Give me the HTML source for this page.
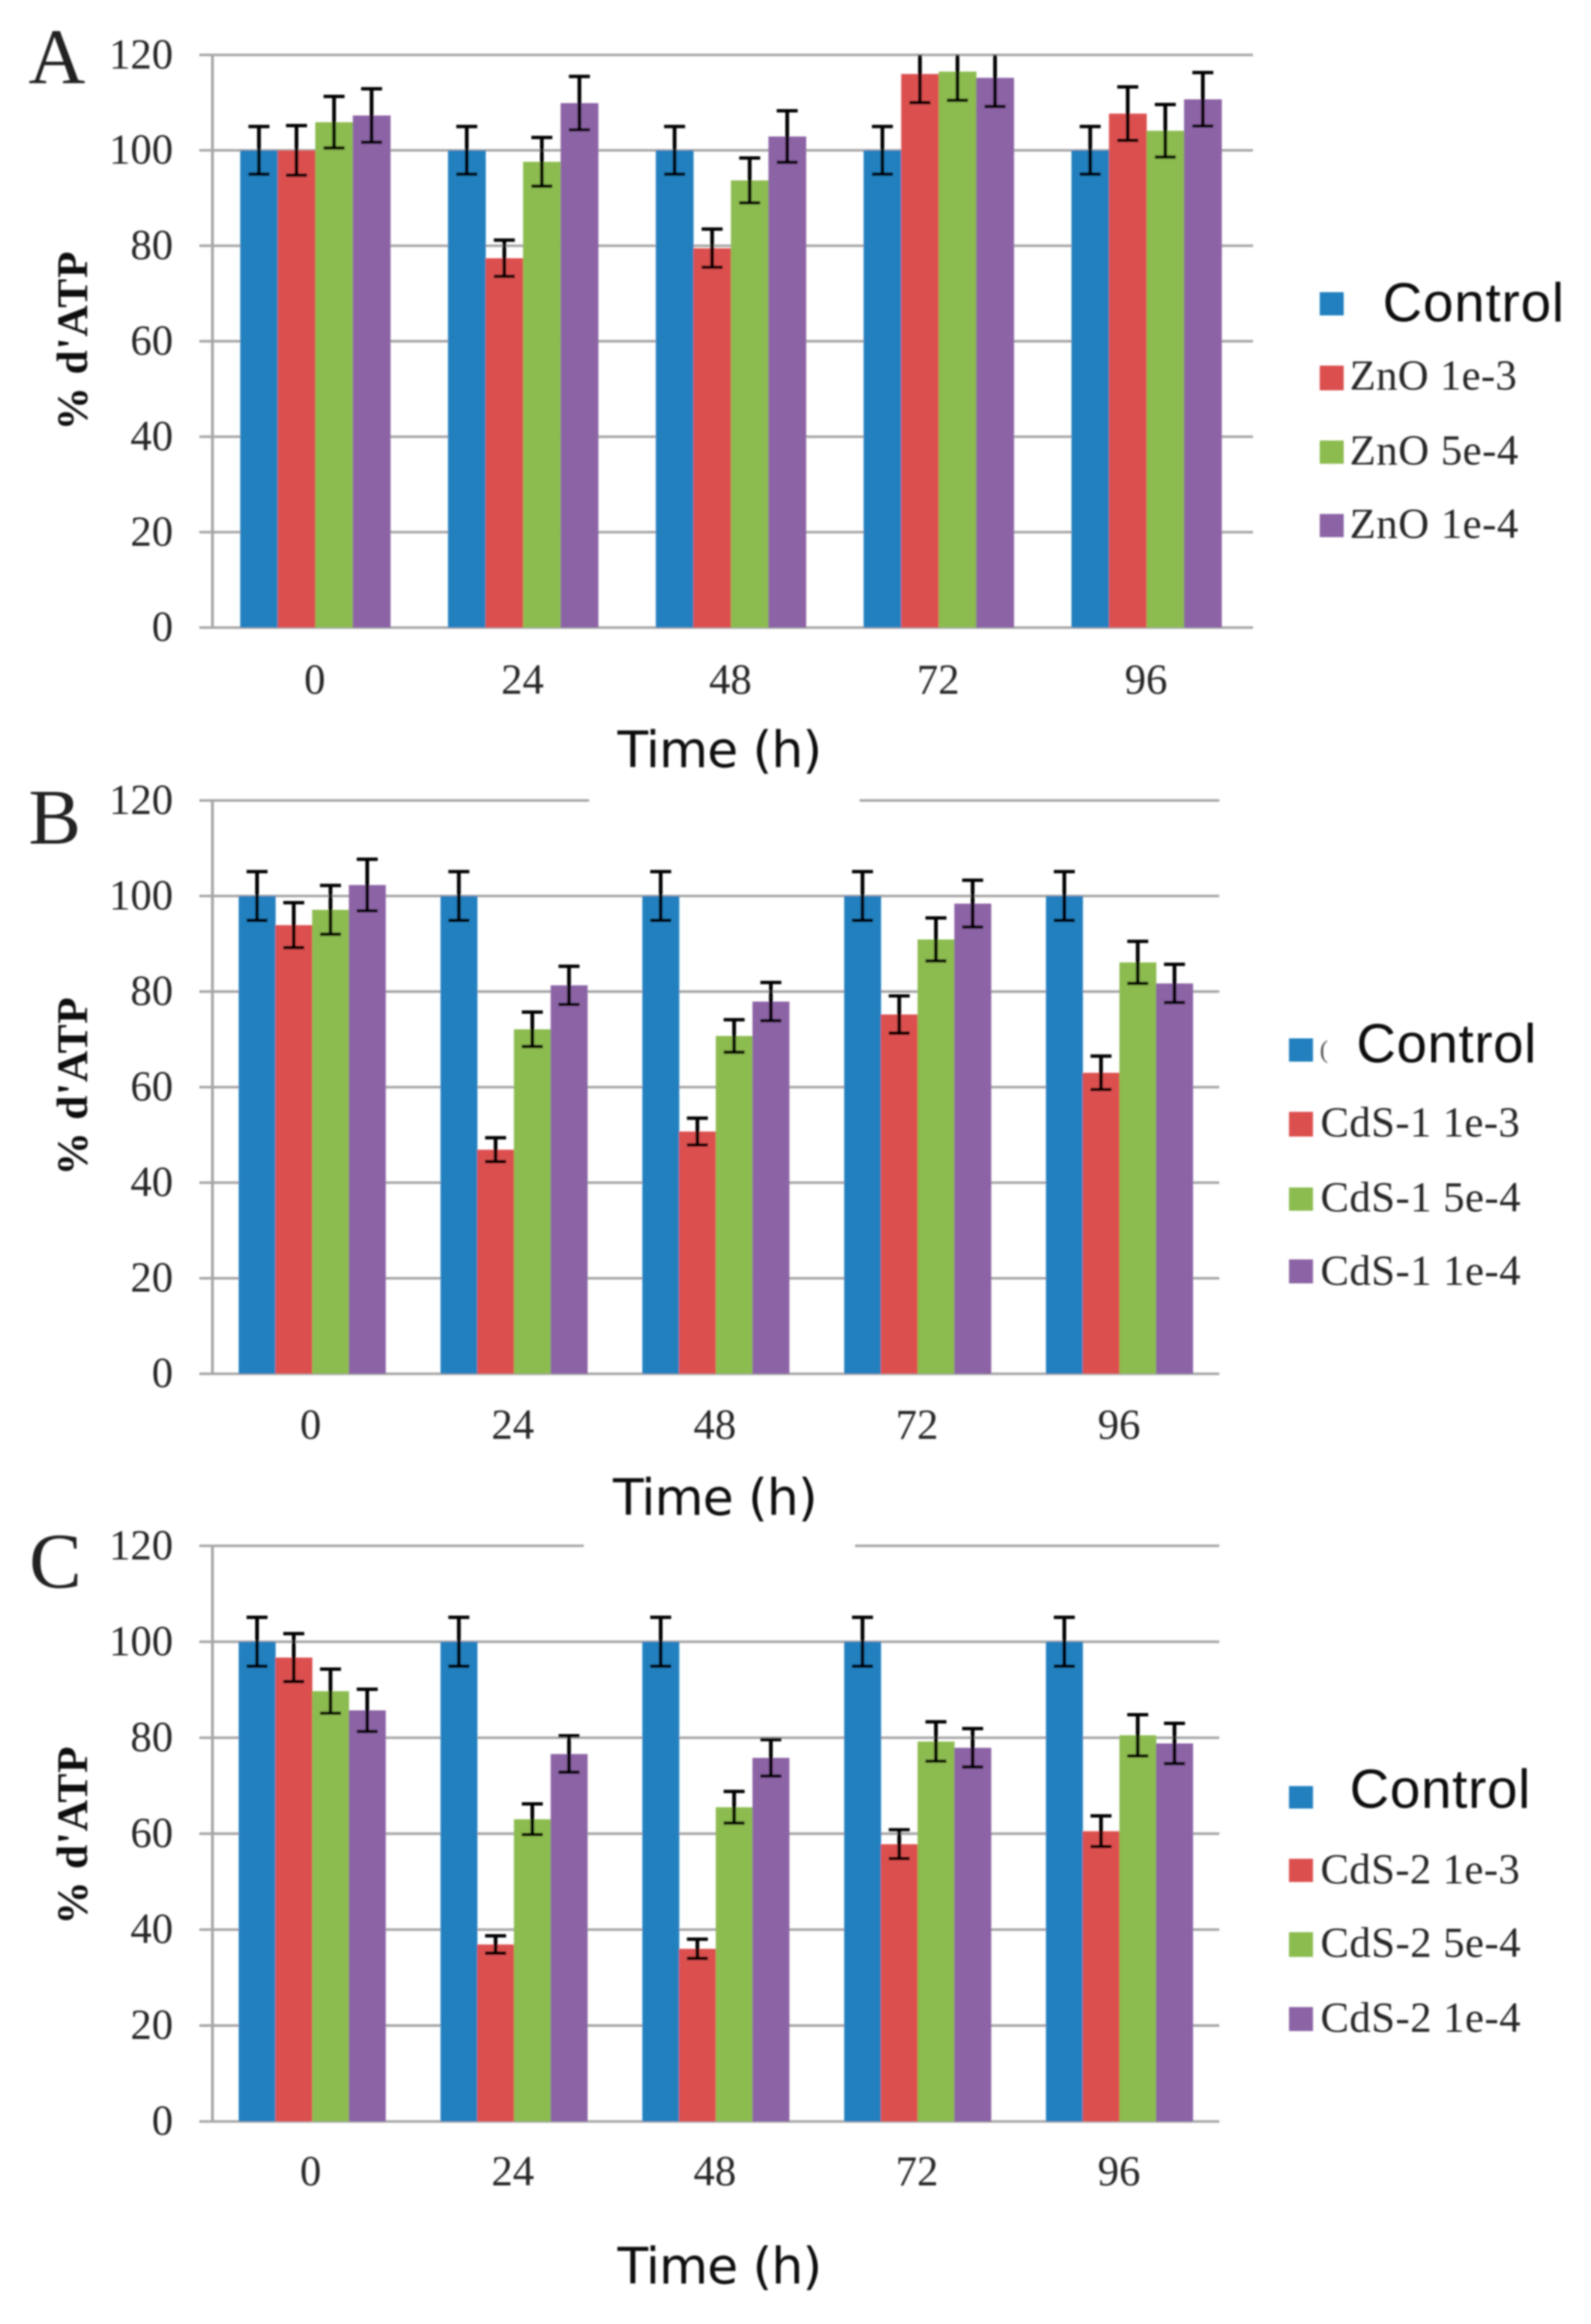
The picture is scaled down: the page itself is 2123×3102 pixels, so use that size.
<!DOCTYPE html>
<html lang="en">
<head>
<meta charset="utf-8">
<title>% d'ATP over time for ZnO, CdS-1 and CdS-2</title>
<style>
html,body{margin:0;padding:0;background:#fff;}
svg{display:block;}
.tick{font-family:"Liberation Serif",serif;font-size:57px;fill:#262626;}
.ytitle{font-family:"Liberation Serif",serif;font-size:58px;font-weight:bold;fill:#111;}
.xtitle{font-family:"DejaVu Sans",sans-serif;font-size:67px;fill:#111;}
.letter{font-family:"Liberation Serif",serif;font-size:105px;fill:#222;}
.lg-ctrl{font-family:"Liberation Sans",sans-serif;font-size:73px;fill:#111;}
.lg{font-family:"Liberation Serif",serif;font-size:57px;fill:#262626;}
</style>
</head>
<body>
<svg id="figure" xmlns="http://www.w3.org/2000/svg" width="2123" height="3102" viewBox="0 0 2123 3102">
<defs>
<filter id="soft" filterUnits="userSpaceOnUse" x="0" y="0" width="2123" height="3102"><feGaussianBlur stdDeviation="1.1"/></filter>
</defs>
<rect width="2123" height="3102" fill="#fff"/>
<g filter="url(#soft)">
  <g id="panel-a">
    <g id="marks-a"></g>
    <text class="letter" x="38" y="111">A</text>
    <text class="ytitle" text-anchor="middle" textLength="239" transform="translate(116,455) rotate(-90)">% d'ATP</text>
    <text class="xtitle" x="824" y="1024" textLength="273">Time (h)</text>
    <g>
      <rect x="1761" y="390" width="32" height="31" fill="#2480bf"/>
      <text class="lg-ctrl" x="1845" y="429" textLength="242">Control</text>
      <rect x="1761" y="488" width="32" height="33" fill="#dc4f4f"/>
      <text class="lg" x="1801" y="520" textLength="223">ZnO 1e-3</text>
      <rect x="1761" y="588" width="32" height="31" fill="#8cbb4f"/>
      <text class="lg" x="1801" y="620" textLength="225">ZnO 5e-4</text>
      <rect x="1761" y="686" width="32" height="31" fill="#8c63a5"/>
      <text class="lg" x="1801" y="718" textLength="225">ZnO 1e-4</text>
    </g>
  </g>
  <g id="panel-b">
    <g id="marks-b"></g>
    <text class="letter" x="38" y="1126">B</text>
    <text class="ytitle" text-anchor="middle" textLength="238" transform="translate(116,1450) rotate(-90)">% d'ATP</text>
    <text class="xtitle" x="818" y="2022" textLength="273">Time (h)</text>
    <g>
      <rect x="1720" y="1386" width="32" height="31" fill="#2480bf"/>
      <text x="1761" y="1412" font-family="Liberation Serif, serif" font-size="34" fill="#555">(</text>
      <text class="lg-ctrl" x="1810" y="1418" textLength="240">Control</text>
      <rect x="1720" y="1484" width="32" height="33" fill="#dc4f4f"/>
      <text class="lg" x="1762" y="1517" textLength="266">CdS-1 1e-3</text>
      <rect x="1720" y="1585" width="32" height="31" fill="#8cbb4f"/>
      <text class="lg" x="1762" y="1617" textLength="267">CdS-1 5e-4</text>
      <rect x="1720" y="1681" width="32" height="32" fill="#8c63a5"/>
      <text class="lg" x="1762" y="1715" textLength="267">CdS-1 1e-4</text>
    </g>
  </g>
  <g id="panel-c">
    <g id="marks-c"></g>
    <text class="letter" x="39" y="2119">C</text>
    <text class="ytitle" text-anchor="middle" textLength="238" transform="translate(116,2450) rotate(-90)">% d'ATP</text>
    <text class="xtitle" x="824" y="3048" textLength="273">Time (h)</text>
    <g>
      <rect x="1720" y="2384" width="32" height="30" fill="#2480bf"/>
      <text class="lg-ctrl" x="1801" y="2413" textLength="241">Control</text>
      <rect x="1720" y="2481" width="32" height="31" fill="#dc4f4f"/>
      <text class="lg" x="1762" y="2514" textLength="266">CdS-2 1e-3</text>
      <rect x="1720" y="2579" width="32" height="33" fill="#8cbb4f"/>
      <text class="lg" x="1762" y="2612" textLength="267">CdS-2 5e-4</text>
      <rect x="1720" y="2679" width="32" height="32" fill="#8c63a5"/>
      <text class="lg" x="1762" y="2712" textLength="267">CdS-2 1e-4</text>
    </g>
  </g>
</g>
</svg>
<script>
// Shared axis data
const categories = ['0', '24', '48', '72', '96'];
const yTicks = [0, 20, 40, 60, 80, 100, 120];
const yMax = 120;

// Panel A values (% ATP) and error half-widths
const aControl = [100, 100, 100, 100, 100];
const aHigh = [100, 77.4, 79.5, 116, 107.7];
const aMid = [105.9, 97.6, 93.7, 116.5, 104.1];
const aLow = [107.3, 109.9, 102.9, 115.2, 110.7];
const aControlErr = [5, 5, 5, 5, 5];
const aHighErr = [5.2, 3.8, 4, 6, 5.6];
const aMidErr = [5.4, 5.1, 4.7, 6, 5.5];
const aLowErr = [5.6, 5.6, 5.4, 6, 5.6];

// Panel B values
const bControl = [100, 100, 100, 100, 100];
const bHigh = [93.9, 46.9, 50.7, 75.2, 63];
const bMid = [97.1, 72.1, 70.7, 90.9, 86.1];
const bLow = [102.3, 81.3, 77.9, 98.4, 81.7];
const bControlErr = [5.1, 5.1, 5.1, 5.1, 5.1];
const bHighErr = [4.7, 2.5, 2.8, 3.9, 3.5];
const bMidErr = [5.1, 3.6, 3.4, 4.5, 4.4];
const bLowErr = [5.4, 4, 4, 4.9, 4];

// Panel C values
const cControl = [100, 100, 100, 100, 100];
const cHigh = [96.7, 36.9, 36, 57.8, 60.5];
const cMid = [89.7, 63, 65.5, 79.2, 80.5];
const cLow = [85.7, 76.6, 75.8, 77.9, 78.8];
const cControlErr = [5.1, 5.1, 5.1, 5.1, 5.1];
const cHighErr = [5, 1.8, 2, 3, 3.2];
const cMidErr = [4.6, 3.2, 3.3, 4.1, 4.3];
const cLowErr = [4.4, 3.8, 3.8, 4, 4.2];

const seriesColors = ['#2480bf', '#dc4f4f', '#8cbb4f', '#8c63a5'];
const seriesKeys = ['control', 'high', 'mid', 'low'];
const NS = 'http://www.w3.org/2000/svg';

function make(parent, tag, attrs) {
  const el = document.createElementNS(NS, tag);
  for (const k in attrs) el.setAttribute(k, attrs[k]);
  parent.appendChild(el);
  return el;
}

function drawPanel(cfg) {
  const host = document.getElementById(cfg.hostId);
  const yScale = v => cfg.zeroY - (v / yMax) * (cfg.zeroY - cfg.topY);
  const barX = (i, s) => cfg.barStart + cfg.pitch * i + s * cfg.barW;

  // gridlines and axis
  yTicks.forEach(t => {
    const y = yScale(t);
    const segments = (t === yMax && cfg.topGap)
      ? [[266, cfg.topGap[0]], [cfg.topGap[1], cfg.rightX]]
      : [[266, cfg.rightX]];
    segments.forEach(seg => {
      const line = make(host, 'line', {x1: seg[0], x2: seg[1], y1: y, y2: y, stroke: '#a6a6a6', 'stroke-width': 3.4});
      
      
    });
    const label = make(host, 'text', {x: 231, y: y + 18, 'text-anchor': 'end', class: 'tick'});
    label.textContent = String(t);
    
    
  });
  const axis = make(host, 'line', {x1: 283.5, x2: 283.5, y1: yScale(yMax), y2: yScale(0), stroke: '#a6a6a6', 'stroke-width': 3.8});
  
  

  // bars
  cfg.values.forEach((vals, s) => {
    vals.forEach((v, i) => {
      const bar = make(host, 'rect', {x: barX(i, s), y: yScale(v), width: cfg.barW + 0.3, height: yScale(0) - yScale(v), fill: seriesColors[s]});
      
      
    });
  });

  // error bars (clipped at the axis maximum)
  cfg.values.forEach((vals, s) => {
    vals.forEach((v, i) => {
      const e = cfg.errors[s][i];
      const cx = barX(i, s) + cfg.barW / 2;
      const hiV = v + e;
      const clipped = hiV > yMax;
      const yTop = yScale(Math.min(hiV, yMax));
      const yBot = yScale(v - e);
      const g = make(host, 'g', {stroke: '#000', fill: 'none'});
      
      
      make(g, 'line', {x1: cx, x2: cx, y1: yTop, y2: yBot, 'stroke-width': 5});
      make(g, 'line', {x1: cx - 14, x2: cx + 14, y1: yBot, y2: yBot, 'stroke-width': 4.5});
      if (!clipped) make(g, 'line', {x1: cx - 14, x2: cx + 14, y1: yTop, y2: yTop, 'stroke-width': 4.5});
    });
  });

  // category labels
  categories.forEach((c, i) => {
    const label = make(host, 'text', {x: cfg.labelStart + cfg.labelPitch * i, y: cfg.labelY, 'text-anchor': 'middle', class: 'tick'});
    label.textContent = c;
    
    
  });
}

drawPanel({id: 'a', hostId: 'marks-a', topY: 73.3, zeroY: 837.7, rightX: 1672, barStart: 320.5, pitch: 277.3, barW: 50.1,
  labelStart: 420, labelPitch: 277.3, labelY: 926, topGap: null,
  values: [aControl, aHigh, aMid, aLow], errors: [aControlErr, aHighErr, aMidErr, aLowErr]});
drawPanel({id: 'b', hostId: 'marks-b', topY: 1068.4, zeroY: 1833.7, rightX: 1627, barStart: 318.5, pitch: 269.3, barW: 49,
  labelStart: 414.5, labelPitch: 269.7, labelY: 1920.5, topGap: [786, 1147],
  values: [bControl, bHigh, bMid, bLow], errors: [bControlErr, bHighErr, bMidErr, bLowErr]});
drawPanel({id: 'c', hostId: 'marks-c', topY: 2063.3, zeroY: 2831.7, rightX: 1627, barStart: 318.5, pitch: 269.3, barW: 49,
  labelStart: 414.5, labelPitch: 269.7, labelY: 2917, topGap: [779, 1141],
  values: [cControl, cHigh, cMid, cLow], errors: [cControlErr, cHighErr, cMidErr, cLowErr]});
</script>
</body>
</html>
